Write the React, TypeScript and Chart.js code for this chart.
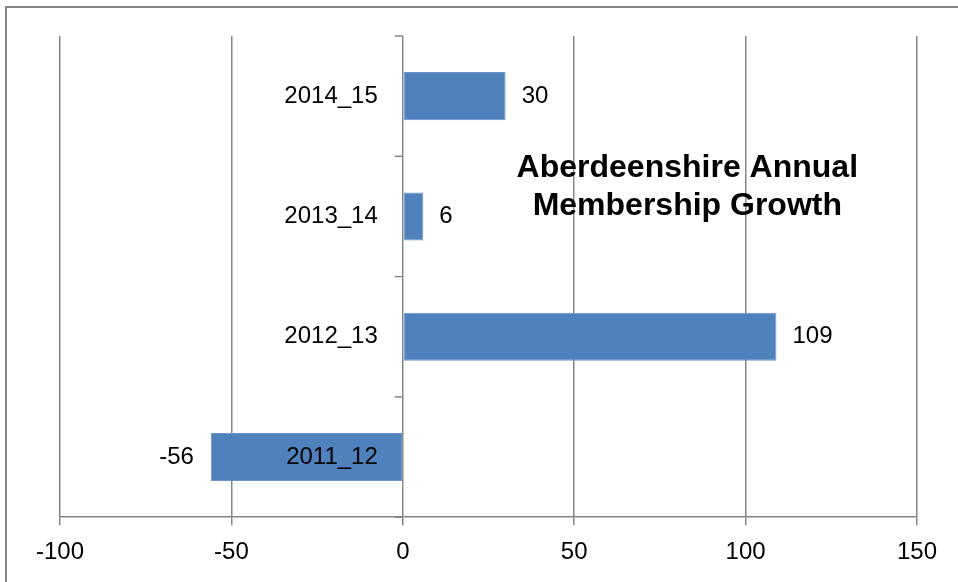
import React, { useEffect, useRef } from "react";
import { Chart, registerables } from "chart.js";

Chart.register(...registerables);

const categories = ["2014_15", "2013_14", "2012_13", "2011_12"];
const growth = [30, 6, 109, -56];
const xTicks = [-100, -50, 0, 50, 100, 150];
const titleLines = ["Aberdeenshire Annual", "Membership Growth"];

const FONT = "'Liberation Sans', Arial, sans-serif";
const GRID = "#868686";

const overlay = {
  id: "overlay",
  beforeDraw(chart: any) {
    const ctx = chart.ctx;
    ctx.save();
    ctx.strokeStyle = GRID;
    ctx.lineWidth = 2;
    ctx.strokeRect(6, 7, 1000, 700);
    ctx.restore();
  },
  afterDatasetsDraw(chart: any) {
    const ctx = chart.ctx;
    const x = chart.scales.x;
    const y = chart.scales.y;
    const x0 = x.getPixelForValue(0);
    ctx.save();
    ctx.strokeStyle = GRID;
    ctx.lineWidth = 1.5;
    for (let i = 0; i <= categories.length; i++) {
      const py = y.getPixelForValue(i - 0.5);
      ctx.beginPath();
      ctx.moveTo(x0 - 8, py);
      ctx.lineTo(x0, py);
      ctx.stroke();
    }
    ctx.fillStyle = "#000";
    ctx.font = `24px ${FONT}`;
    ctx.textBaseline = "middle";
    categories.forEach((c, i) => {
      const py = y.getPixelForValue(i);
      ctx.textAlign = "right";
      ctx.fillText(c, x0 - 25, py);
      const v = growth[i];
      const px = x.getPixelForValue(v);
      if (v >= 0) {
        ctx.textAlign = "left";
        ctx.fillText(String(v), px + 16, py);
      } else {
        ctx.textAlign = "right";
        ctx.fillText(String(v), px - 17, py);
      }
    });
    ctx.font = `bold 32px ${FONT}`;
    ctx.textAlign = "center";
    ctx.textBaseline = "alphabetic";
    const cx = x.getPixelForValue(83);
    ctx.fillText(titleLines[0], cx, 177);
    ctx.fillText(titleLines[1], cx, 215);
    ctx.restore();
  },
};

export default function App() {
  const ref = useRef<HTMLCanvasElement | null>(null);
  useEffect(() => {
    if (!ref.current) return;
    const chart = new Chart(ref.current, {
      type: "bar",
      data: {
        labels: categories,
        datasets: [
          {
            data: growth,
            backgroundColor: "#4F81BD",
            borderColor: "#6C96CB",
            borderWidth: 1,
            borderSkipped: false,
            barPercentage: 0.4,
            categoryPercentage: 1,
          },
        ],
      },
      options: {
        indexAxis: "y",
        animation: false,
        responsive: false,
        maintainAspectRatio: false,
        layout: { padding: { left: 60, right: 41, top: 36, bottom: 2 } },
        plugins: {
          legend: { display: false },
          tooltip: { enabled: false },
        },
        scales: {
          x: {
            min: -100,
            max: 150,
            afterBuildTicks: (s: any) => {
              s.ticks = xTicks.map((v) => ({ value: v }));
            },
            grid: {
              color: GRID,
              lineWidth: 1.5,
              tickLength: 8,
              drawTicks: true,
            },
            border: { display: true, color: GRID, width: 1.5 },
            ticks: {
              color: "#000",
              font: { family: FONT, size: 24 },
              padding: 13,
              maxRotation: 0,
            },
          },
          y: {
            display: false,
          },
        },
      },
      plugins: [overlay],
    });
    return () => chart.destroy();
  }, []);
  return (
    <div style={{ position: "fixed", left: 0, top: 0, width: 958, height: 582, background: "#fff" }}>
      <canvas ref={ref} width={958} height={582} style={{ display: "block" }} />
    </div>
  );
}
